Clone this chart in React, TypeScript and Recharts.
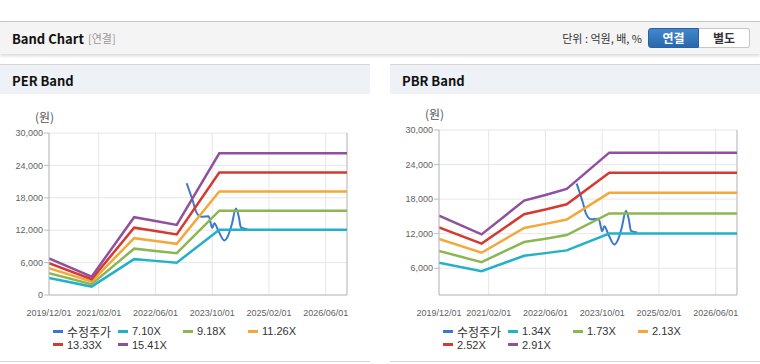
import { CartesianGrid, Legend, Line, LineChart, ReferenceLine, XAxis, YAxis } from "recharts";

// x-axis labels and the dates the band values change at
const tickLabels = ["2019/12/01", "2021/02/01", "2022/06/01", "2023/10/01", "2025/02/01", "2026/06/01"];
const bandDates = ["2019/12/01", "2020/12/01", "2021/12/01", "2022/06/01", "2022/12/01", "2023/12/01", "2026/12/01"];

// PER band (won)
const perNames = ["7.10X", "9.18X", "11.26X", "13.33X", "15.41X"];
const per710 = [3130, 1560, 6640, 6320, 5980, 12080, 12080];
const per918 = [4050, 2010, 8580, 8170, 7730, 15620, 15620];
const per1126 = [4970, 2470, 10530, 10020, 9480, 19170, 19170];
const per1333 = [5880, 2920, 12460, 11860, 11220, 22690, 22690];
const per1541 = [6800, 3380, 14410, 13720, 12980, 26230, 26230];

// PBR band (won)
const pbrNames = ["1.34X", "1.73X", "2.13X", "2.52X", "2.91X"];
const pbr134 = [6970, 5470, 8170, 8620, 9100, 12010, 12010];
const pbr173 = [9000, 7060, 10550, 11120, 11750, 15500, 15500];
const pbr213 = [11080, 8690, 12990, 13700, 14460, 19090, 19090];
const pbr252 = [13100, 10280, 15370, 16200, 17110, 22580, 22580];
const pbr291 = [15130, 11870, 17750, 18710, 19760, 26070, 26070];

// adjusted price
const priceName = "수정주가";
const priceDates = [
  "2023/02/25", "2023/04/16", "2023/05/16", "2023/06/28", "2023/09/01", "2023/10/01", "2023/10/19", "2023/11/25",
  "2024/01/13", "2024/02/16", "2024/03/16", "2024/04/22", "2024/05/16", "2024/06/04", "2024/07/28",
];
const priceValues = [20700, 17500, 15400, 14500, 14600, 12400, 13300, 11800, 10100, 11000, 13000, 16000, 14500, 12500, 12200];

const bandColors = ["#22b1c8", "#8cb652", "#f4a73a", "#d6392f", "#91509f"];
const priceColor = "#3a79cb";
const font = "'Liberation Sans', Arial, sans-serif";
const krFont = "'Noto Sans CJK KR', sans-serif";

// months since 2019/12
const toMonth = (d: string) => {
  const [y, m, day] = d.split("/").map(Number);
  return (y - 2019) * 12 + (m - 12) + (day - 1) / 30;
};
const xTicks = tickLabels.map(toMonth);
const xLabel = (v: number) => tickLabels[xTicks.indexOf(v)] ?? "";
const priceRows = priceDates.map((d, i) => ({ m: toMonth(d), v: priceValues[i] }));

function LegendBox({ names }: { names: string[] }) {
  const items = [{ n: priceName, c: priceColor }, ...names.map((n, k) => ({ n, c: bandColors[k] }))];
  return (
    <div style={{ display: "flex", flexWrap: "wrap", width: 270, height: 27, marginLeft: 53, fontFamily: font, fontSize: 11, color: "#333" }}>
      {items.map((p) => (
        <div key={p.n} style={{ width: 65, height: 12.5, display: "flex", alignItems: "center", whiteSpace: "nowrap" }}>
          <span style={{ display: "inline-block", width: 10, height: 3, background: p.c, marginRight: 4 }} />
          <span style={{ fontFamily: p.n === priceName ? krFont : font, fontSize: p.n === priceName ? 12 : 11 }}>{p.n}</span>
        </div>
      ))}
    </div>
  );
}

function BandChart({ names, series, domain, yTicks, top }: { names: string[]; series: number[][]; domain: number[]; yTicks: number[]; top: number }) {
  const rows = bandDates.map((d, i) => {
    const r: Record<string, number> = { m: toMonth(d) };
    series.forEach((s, k) => (r["b" + k] = s[i]));
    return r;
  });
  return (
    <LineChart width={370} height={265} data={rows} margin={{ top, right: 23, left: 0, bottom: 8 }} style={{ fontFamily: font }}>
      <CartesianGrid stroke="#e6e6e6" />
      <XAxis
        dataKey="m" type="number" domain={[0, 84]} ticks={xTicks} tickFormatter={xLabel} interval={0}
        height={30} tickLine={false} tickMargin={9} stroke="#bcbcbc" tick={{ fill: "#5f5f5f", fontSize: 9 }} allowDataOverflow
      />
      <YAxis
        type="number" domain={domain} ticks={yTicks} width={49} tickSize={5} tickMargin={1} stroke="#bcbcbc"
        tick={{ fill: "#5f5f5f", fontSize: 9 }} tickFormatter={(v) => v.toLocaleString("en-US")} allowDataOverflow
        label={{ value: "(원)", position: "top", offset: 11, dx: 20, fill: "#555", fontSize: 12, fontFamily: krFont }}
      />
      <ReferenceLine x={84} stroke="#bcbcbc" />
      <Line data={priceRows} dataKey="v" name={priceName} type="monotone" stroke={priceColor} strokeWidth={2} dot={false} isAnimationActive={false} />
      {names.map((n, k) => (
        <Line key={n} dataKey={"b" + k} name={n} type="linear" stroke={bandColors[k]} strokeWidth={2.5} dot={false} isAnimationActive={false} />
      ))}
      <Legend verticalAlign="bottom" height={27} content={() => <LegendBox names={names} />} wrapperStyle={{ left: 0, width: 370 }} />
    </LineChart>
  );
}

const panelHead = { position: "absolute" as const, top: 64, height: 29, background: "#eef2f7", borderTop: "1px solid #d6d6d6" };
const panelTitle = { position: "absolute" as const, left: 12, top: 6, fontSize: 13, fontWeight: 700, color: "#111", fontFamily: krFont };

export default function App() {
  return (
    <div style={{ position: "relative", width: 760, height: 364, background: "#fff", overflow: "hidden", fontFamily: krFont }}>
      <style>{`body{margin:0}`}</style>
      <div style={{ position: "absolute", left: 0, top: 21, width: 760, height: 32, background: "#f4f4f4", borderTop: "1px solid #c4c4c4", boxShadow: "0 2px 3px rgba(0,0,0,0.15)" }}>
        <span style={{ position: "absolute", left: 12, top: 7, fontSize: 13, fontWeight: 700, color: "#111" }}>Band Chart</span>
        <span style={{ position: "absolute", left: 88, top: 8, fontSize: 11, color: "#999" }}>[연결]</span>
        <span style={{ position: "absolute", right: 118, top: 8, fontSize: 11, color: "#333" }}>단위 : 억원, 배, %</span>
        <div style={{ position: "absolute", left: 648, top: 6, width: 51, height: 20, boxSizing: "border-box", background: "linear-gradient(#4287cc, #2a67ac)", border: "1px solid #2862a3", borderRadius: "3px 0 0 3px", color: "#fff", fontSize: 12, fontWeight: 700, textAlign: "center", lineHeight: "18px" }}>연결</div>
        <div style={{ position: "absolute", left: 699, top: 6, width: 51, height: 20, boxSizing: "border-box", background: "#fff", border: "1px solid #c6c6c6", borderLeft: "none", borderRadius: "0 3px 3px 0", color: "#333", fontSize: 12, fontWeight: 700, textAlign: "center", lineHeight: "18px" }}>별도</div>
      </div>

      <div style={{ ...panelHead, left: 0, width: 370 }}>
        <span style={panelTitle}>PER Band</span>
      </div>
      <div style={{ ...panelHead, left: 390, width: 370 }}>
        <span style={panelTitle}>PBR Band</span>
      </div>
      <div style={{ position: "absolute", left: 0, top: 361, width: 370, height: 1, background: "#d6d6d6" }} />
      <div style={{ position: "absolute", left: 390, top: 361, width: 370, height: 1, background: "#d6d6d6" }} />

      <div style={{ position: "absolute", left: 0, top: 95 }}>
        <BandChart names={perNames} series={[per710, per918, per1126, per1333, per1541]} domain={[0, 30000]} yTicks={[0, 6000, 12000, 18000, 24000, 30000]} top={38} />
      </div>
      <div style={{ position: "absolute", left: 390, top: 95 }}>
        <BandChart names={pbrNames} series={[pbr134, pbr173, pbr213, pbr252, pbr291]} domain={[1350, 30000]} yTicks={[6000, 12000, 18000, 24000, 30000]} top={35} />
      </div>
    </div>
  );
}
